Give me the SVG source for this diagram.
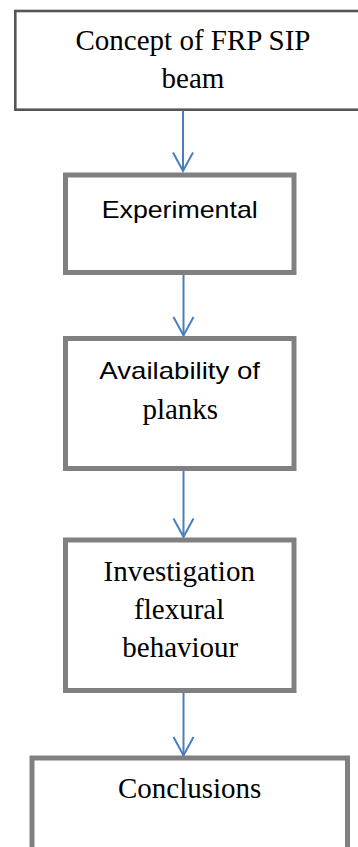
<svg xmlns="http://www.w3.org/2000/svg" width="358" height="847" viewBox="0 0 358 847">
  <style>
    .bg { fill: #ffffff; }
    .box-top { fill: #ffffff; stroke: #555555; stroke-width: 2.6; }
    .box { fill: #ffffff; stroke: #808080; stroke-width: 5; }
    .serif { font-family: "Liberation Serif", "Times New Roman", serif; font-size: 29px; fill: #000000; text-anchor: middle; }
    .sans { font-family: "Liberation Sans", Arial, sans-serif; font-size: 24px; fill: #000000; text-anchor: middle; }
    .conn { stroke: #4A7EBB; stroke-width: 2; fill: none; }
  </style>
  <defs>
    <marker id="vhead" markerUnits="userSpaceOnUse" viewBox="-21 -12 24 24" markerWidth="24" markerHeight="24" refX="0" refY="0" orient="auto">
      <path d="M-18.5,-10 L0,0 L-18.5,10" fill="none" stroke="#4A7EBB" stroke-width="2" stroke-linejoin="miter"/>
    </marker>
  </defs>
  <rect class="bg" x="0" y="0" width="358" height="847"/>

  <g id="node-concept">
    <rect class="box-top" x="15.3" y="11" width="360" height="98.7"/>
    <text class="serif" x="193" y="50">Concept of FRP SIP</text>
    <text class="serif" x="193" y="88.3">beam</text>
  </g>

  <g id="node-experimental">
    <rect class="box" x="65.5" y="175" width="228.5" height="97.5"/>
    <text class="sans" x="179.7" y="217.7" textLength="156" lengthAdjust="spacingAndGlyphs">Experimental</text>
  </g>

  <g id="node-availability">
    <rect class="box" x="65.5" y="338.5" width="228.5" height="130"/>
    <text class="sans" x="179.7" y="379.3" textLength="160.7" lengthAdjust="spacingAndGlyphs">Availability of</text>
    <text class="serif" x="180.3" y="418.5">planks</text>
  </g>

  <g id="node-investigation">
    <rect class="box" x="65.5" y="540" width="228.5" height="150.5"/>
    <text class="serif" x="179.2" y="580.7">Investigation</text>
    <text class="serif" x="179.2" y="619.3">flexural</text>
    <text class="serif" x="180.3" y="656.7">behaviour</text>
  </g>

  <g id="node-conclusions">
    <rect class="box" x="32" y="758" width="315.5" height="120"/>
    <text class="serif" x="189.7" y="798.3">Conclusions</text>
  </g>

  <g id="connectors">
    <line class="conn" x1="183" y1="110.5" x2="183" y2="171" marker-end="url(#vhead)"/>
    <line class="conn" x1="183.5" y1="275" x2="183.5" y2="335.5" marker-end="url(#vhead)"/>
    <line class="conn" x1="183.5" y1="471" x2="183.5" y2="537" marker-end="url(#vhead)"/>
    <line class="conn" x1="183.5" y1="693" x2="183.5" y2="755.5" marker-end="url(#vhead)"/>
  </g>
</svg>
